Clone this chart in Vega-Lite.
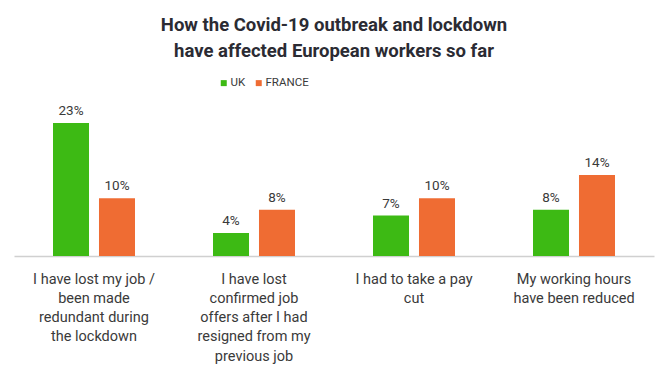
{
  "$schema": "https://vega.github.io/schema/vega-lite/v6.json",
  "autosize": {"type": "none"},
  "width": 640,
  "height": 156,
  "padding": {"left": 14, "top": 100, "right": 16, "bottom": 116},
  "background": "white",
  "title": {
    "text": ["How the Covid-19 outbreak and lockdown", "have affected European workers so far"],
    "anchor": "middle",
    "frame": "group",
    "font": "Roboto",
    "fontSize": 18.5,
    "fontWeight": "bold",
    "color": "#2b2b33",
    "lineHeight": 26,
    "offset": 17
  },
  "config": {
    "view": {"stroke": null},
    "font": "Roboto"
  },
  "data": {
    "values": [
      {"q": "I have lost my job /|been made|redundant during|the lockdown", "country": "UK", "value": 0.23},
      {"q": "I have lost my job /|been made|redundant during|the lockdown", "country": "FRANCE", "value": 0.10},
      {"q": "I have lost|confirmed job|offers after I had|resigned from my|previous job", "country": "UK", "value": 0.04},
      {"q": "I have lost|confirmed job|offers after I had|resigned from my|previous job", "country": "FRANCE", "value": 0.08},
      {"q": "I had to take a pay|cut", "country": "UK", "value": 0.07},
      {"q": "I had to take a pay|cut", "country": "FRANCE", "value": 0.10},
      {"q": "My working hours|have been reduced", "country": "UK", "value": 0.08},
      {"q": "My working hours|have been reduced", "country": "FRANCE", "value": 0.14}
    ]
  },
  "encoding": {
    "x": {
      "field": "q",
      "type": "nominal",
      "sort": null,
      "scale": {"paddingInner": 0.4875, "paddingOuter": 0.24375},
      "axis": {
        "title": null,
        "labelExpr": "split(datum.label, '|')",
        "labelAngle": 0,
        "labelFontSize": 14.5,
        "labelColor": "#3a3a3a",
        "labelLineHeight": 19.3,
        "labelPadding": 16,
        "labelFont": "Roboto",
        "ticks": false,
        "domainColor": "#d0d0d0",
        "domainWidth": 1.5,
        "labelLimit": 200
      }
    },
    "xOffset": {
      "field": "country",
      "type": "nominal",
      "sort": ["UK", "FRANCE"],
      "scale": {"paddingInner": 0.217, "paddingOuter": 0}
    },
    "y": {
      "field": "value",
      "type": "quantitative",
      "scale": {"domain": [0, 0.27]},
      "axis": null
    }
  },
  "layer": [
    {
      "mark": {"type": "bar"},
      "encoding": {
        "color": {
          "field": "country",
          "type": "nominal",
          "sort": ["UK", "FRANCE"],
          "scale": {"domain": ["UK", "FRANCE"], "range": ["#3dba14", "#ef6c33"]},
          "legend": {
            "title": null,
            "orient": "none",
            "legendX": 204,
            "legendY": -23,
            "direction": "horizontal",
            "symbolType": "square",
            "symbolSize": 36,
            "labelFontSize": 11.5,
            "labelColor": "#3a3a3a",
            "labelFont": "Roboto",
            "columnPadding": 7,
            "symbolOffset": 0,
            "labelOffset": 1
          }
        }
      }
    },
    {
      "mark": {"type": "text", "dy": -12, "fontSize": 13.5, "color": "#3a3a3a", "font": "Roboto"},
      "encoding": {
        "text": {"field": "value", "type": "quantitative", "format": ".0%"},
        "detail": {"field": "country"}
      }
    }
  ]
}
